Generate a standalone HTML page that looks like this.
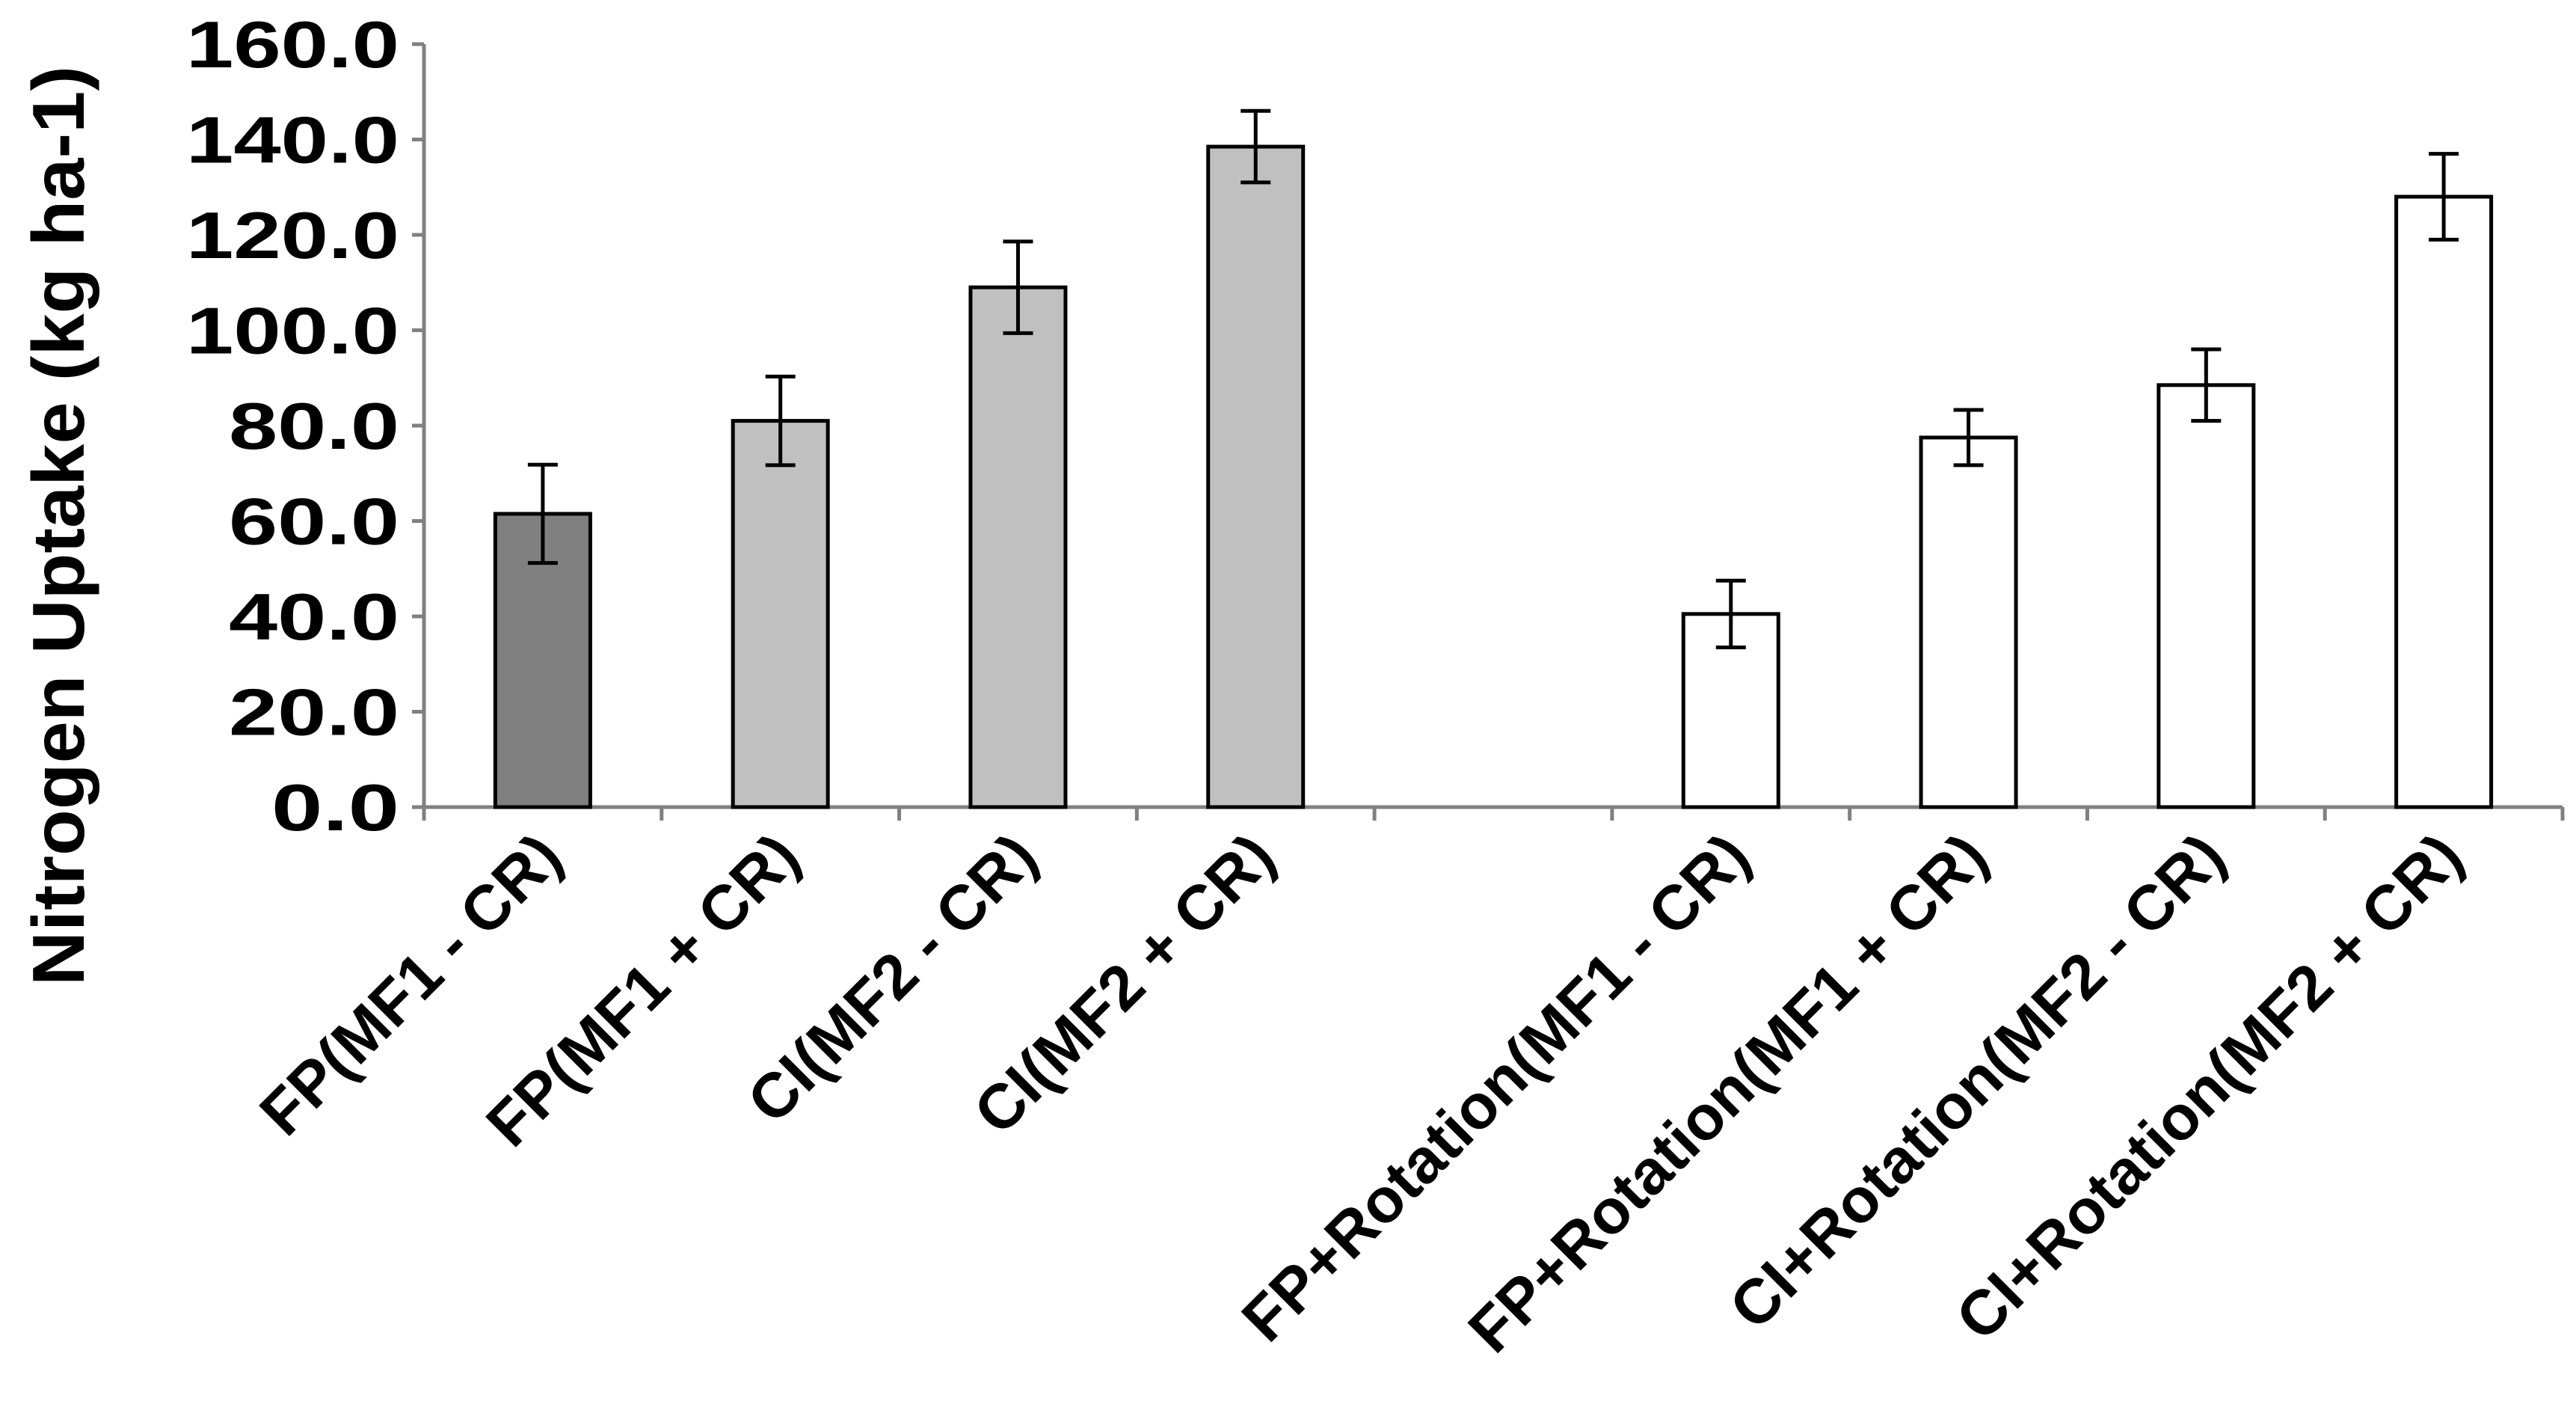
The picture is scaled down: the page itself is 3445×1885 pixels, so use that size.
<!DOCTYPE html>
<html><head><meta charset="utf-8"><style>
html,body{margin:0;padding:0;background:#fff}
svg{display:block}
text{font-family:"Liberation Sans",sans-serif;font-weight:bold;fill:#000}
</style></head><body>
<svg id="chart" width="3445" height="1885" viewBox="0 0 3445 1885" xmlns="http://www.w3.org/2000/svg"></svg>
<script>
const categories = ["FP(MF1 - CR)","FP(MF1 + CR)","CI(MF2 - CR)","CI(MF2 + CR)","","FP+Rotation(MF1 - CR)","FP+Rotation(MF1 + CR)","CI+Rotation(MF2 - CR)","CI+Rotation(MF2 + CR)"];
const values = [61.5, 81, 109, 138.5, null, 40.5, 77.5, 88.5, 128];
const errors = [10.3, 9.3, 9.6, 7.5, null, 7, 5.8, 7.5, 9];
const fills = ["#808080","#c0c0c0","#c0c0c0","#c0c0c0",null,"#ffffff","#ffffff","#ffffff","#ffffff"];
const yTicks = [0,20,40,60,80,100,120,140,160];

const svg = document.getElementById('chart');
const NS = "http://www.w3.org/2000/svg";
const x0 = 567, x1 = 3427, y0 = 1079, yTop = 59, yMax = 160;
const slot = (x1 - x0) / categories.length;
const barW = 127;
const yS = v => y0 - (v / yMax) * (y0 - yTop);
const xC = i => x0 + slot * (i + 0.5);
function mk(tag, attrs, parent) {
  const e = document.createElementNS(NS, tag);
  for (const k in attrs) e.setAttribute(k, attrs[k]);
  (parent || svg).appendChild(e);
  return e;
}

const yAxis = mk('g', {});


mk('line', {x1:x0, y1:yTop, x2:x0, y2:y0, stroke:'#808080', 'stroke-width':5}, yAxis);
yTicks.forEach(t => {
  const y = yS(t);
  mk('line', {x1:x0-16, y1:y, x2:x0, y2:y, stroke:'#808080', 'stroke-width':5}, yAxis);
  const s = t.toFixed(1);
  const tx = mk('text', {x:x0-33, y:y+31, 'text-anchor':'end', 'font-size':88, textLength: s.length * 57, lengthAdjust:'spacingAndGlyphs'}, yAxis);
  tx.textContent = s;
  
  
});
const title = mk('text', {x:0, y:0, 'text-anchor':'middle', 'font-size':98, textLength:1230, lengthAdjust:'spacingAndGlyphs', transform:'translate(112,703) rotate(-90)'});
title.textContent = 'Nitrogen Uptake (kg ha-1)';



const xAxis = mk('g', {});


mk('line', {x1:x0, y1:y0, x2:x1, y2:y0, stroke:'#808080', 'stroke-width':5}, xAxis);
for (let i = 0; i <= categories.length; i++) {
  const x = x0 + slot * i;
  mk('line', {x1:x, y1:y0, x2:x, y2:y0+18, stroke:'#808080', 'stroke-width':5}, xAxis);
}
categories.forEach((c, i) => {
  if (!c) return;
  const cx = xC(i) + 30, cy = 1150;
  const t = mk('text', {x:cx, y:cy, 'text-anchor':'end', 'font-size':84, transform:`rotate(-45 ${cx} ${cy})`}, xAxis);
  t.textContent = c;
  
  
});

values.forEach((v, i) => {
  if (v === null) return;
  const g = mk('g', {});
  
  
  const cx = xC(i);
  const r = mk('rect', {x:cx-barW/2, y:yS(v), width:barW, height:y0-yS(v), fill:fills[i], stroke:'#000', 'stroke-width':5}, g);
  
  
  const e = errors[i];
  const eb = mk('path', {d:`M${cx} ${yS(v+e)}V${yS(v-e)}M${cx-20} ${yS(v+e)}H${cx+20}M${cx-20} ${yS(v-e)}H${cx+20}`, stroke:'#000', 'stroke-width':5, fill:'none'}, g);
  
  
});
</script>
</body></html>
